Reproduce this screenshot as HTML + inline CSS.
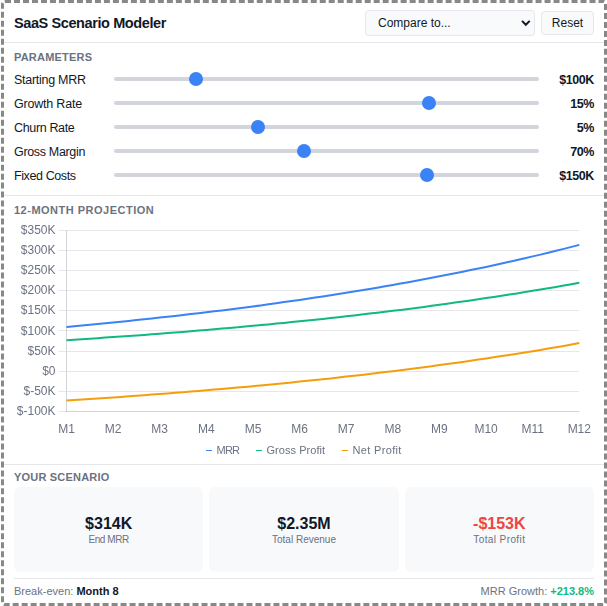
<!DOCTYPE html>
<html><head><meta charset="utf-8"><title>SaaS Scenario Modeler</title>
<style>
html,body{margin:0;padding:0;background:#fff;}
body{width:607px;height:606px;overflow:hidden;position:relative;font-family:"Liberation Sans",sans-serif;color:#111827;}
.frame{position:absolute;left:1px;top:0;width:600px;height:600px;border:3px dashed #888;border-radius:4px;box-sizing:content-box;}
.hr{position:absolute;left:4px;width:600px;height:1px;background:#e5e7eb;}
.title{position:absolute;left:14px;top:14px;font-weight:bold;font-size:14.5px;letter-spacing:-0.4px;line-height:18px;white-space:nowrap;}
.sel{position:absolute;left:365px;top:10px;width:170px;height:26px;border:1px solid #e5e7eb;border-radius:4px;background:#f9fafb;font-size:12px;line-height:24px;padding-left:12px;box-sizing:border-box;color:#111827;}
.sel svg{position:absolute;left:154px;top:8px;}
.btn{position:absolute;left:541px;top:11px;width:53px;height:24px;border:1px solid #e5e7eb;border-radius:4px;background:#f9fafb;font-size:12px;line-height:22px;text-align:center;color:#111827;box-sizing:border-box;}
.sec{position:absolute;left:14px;font-size:11px;font-weight:bold;color:#6b7280;letter-spacing:0.5px;line-height:14px;white-space:nowrap;}
.lbl{position:absolute;left:14px;font-size:12.5px;line-height:18px;white-space:nowrap;}
.trk{position:absolute;left:114px;width:425px;height:4px;border-radius:2px;background:#d1d5db;}
.thumb{position:absolute;width:14px;height:14px;border-radius:50%;background:#3b82f6;}
.val{position:absolute;right:13px;font-size:12.5px;font-weight:bold;line-height:18px;white-space:nowrap;letter-spacing:-0.4px;}
.chart{position:absolute;left:3px;top:200px;will-change:transform;}
.tk{font-family:"Liberation Sans",sans-serif;font-size:12px;fill:#6b7280;}
.legend{position:absolute;top:442px;left:0;width:607px;height:16px;font-size:11px;color:#6b7280;line-height:16px;}
.legend span{position:absolute;white-space:nowrap;}
.legend i{position:absolute;top:8px;width:6px;height:1px;}
.card{position:absolute;top:487px;height:85px;width:189.33px;background:#f8f9fb;border-radius:6px;}
.card b{position:absolute;left:0;right:0;top:27px;text-align:center;font-size:16px;line-height:20px;}
.card s{position:absolute;left:0;right:0;top:46px;text-align:center;font-size:10px;line-height:14px;color:#6b7280;text-decoration:none;}
.foot{position:absolute;top:583px;font-size:11px;line-height:16px;color:#6b7280;white-space:nowrap;}
.foot b{color:#111827;}
</style></head><body>
<div class="frame"></div>
<div class="title">SaaS Scenario Modeler</div>
<div class="sel">Compare to...<svg width="14" height="10" viewBox="0 0 14 10"><path d="M2.0 1.9 L5.85 5.8 L9.7 1.9" fill="none" stroke="#111827" stroke-width="2"/></svg></div>
<div class="btn">Reset</div>
<div class="hr" style="top:42px"></div>
<div class="sec" style="top:50px;letter-spacing:0.2px">PARAMETERS</div>
<div class="lbl" style="top:71px;letter-spacing:-0.28px">Starting MRR</div><div class="trk" style="top:77px"></div><div class="thumb" style="left:189px;top:72px"></div><div class="val" style="top:71px">$100K</div>
<div class="lbl" style="top:95px;letter-spacing:-0.2px">Growth Rate</div><div class="trk" style="top:101px"></div><div class="thumb" style="left:422px;top:96px"></div><div class="val" style="top:95px">15%</div>
<div class="lbl" style="top:119px;letter-spacing:-0.35px">Churn Rate</div><div class="trk" style="top:125px"></div><div class="thumb" style="left:251px;top:120px"></div><div class="val" style="top:119px">5%</div>
<div class="lbl" style="top:143px;letter-spacing:-0.33px">Gross Margin</div><div class="trk" style="top:149px"></div><div class="thumb" style="left:297px;top:144px"></div><div class="val" style="top:143px">70%</div>
<div class="lbl" style="top:167px;letter-spacing:-0.4px">Fixed Costs</div><div class="trk" style="top:173px"></div><div class="thumb" style="left:420px;top:168px"></div><div class="val" style="top:167px">$150K</div>

<div class="hr" style="top:195px"></div>
<div class="sec" style="top:203px">12-MONTH PROJECTION</div>
<svg class="chart" width="601" height="260" viewBox="3 200 601 260">
<line x1="58.5" y1="230.5" x2="579.3" y2="230.5" stroke="#e5e7eb" stroke-width="1"/>
<text x="55.5" y="234.00" text-anchor="end" class="tk">$350K</text>
<line x1="58.5" y1="250.5" x2="579.3" y2="250.5" stroke="#e5e7eb" stroke-width="1"/>
<text x="55.5" y="254.11" text-anchor="end" class="tk">$300K</text>
<line x1="58.5" y1="270.5" x2="579.3" y2="270.5" stroke="#e5e7eb" stroke-width="1"/>
<text x="55.5" y="274.22" text-anchor="end" class="tk">$250K</text>
<line x1="58.5" y1="290.5" x2="579.3" y2="290.5" stroke="#e5e7eb" stroke-width="1"/>
<text x="55.5" y="294.33" text-anchor="end" class="tk">$200K</text>
<line x1="58.5" y1="310.5" x2="579.3" y2="310.5" stroke="#e5e7eb" stroke-width="1"/>
<text x="55.5" y="314.44" text-anchor="end" class="tk">$150K</text>
<line x1="58.5" y1="330.5" x2="579.3" y2="330.5" stroke="#e5e7eb" stroke-width="1"/>
<text x="55.5" y="334.56" text-anchor="end" class="tk">$100K</text>
<line x1="58.5" y1="351.5" x2="579.3" y2="351.5" stroke="#e5e7eb" stroke-width="1"/>
<text x="55.5" y="354.67" text-anchor="end" class="tk">$50K</text>
<line x1="58.5" y1="371.5" x2="579.3" y2="371.5" stroke="#e5e7eb" stroke-width="1"/>
<text x="55.5" y="374.78" text-anchor="end" class="tk">$0</text>
<line x1="58.5" y1="391.5" x2="579.3" y2="391.5" stroke="#e5e7eb" stroke-width="1"/>
<text x="55.5" y="394.89" text-anchor="end" class="tk">$-50K</text>
<line x1="58.5" y1="411.5" x2="579.3" y2="411.5" stroke="#e5e7eb" stroke-width="1"/>
<text x="55.5" y="415.00" text-anchor="end" class="tk">$-100K</text>
<line x1="66.5" y1="230" x2="66.5" y2="412" stroke="#e5e7eb" stroke-width="1"/>
<line x1="66.5" y1="230" x2="66.5" y2="412" stroke="rgba(17,24,39,0.09)" stroke-width="1"/>
<line x1="66" y1="411.5" x2="579.5" y2="411.5" stroke="rgba(17,24,39,0.09)" stroke-width="1"/>
<text x="66.5" y="432.6" text-anchor="middle" class="tk">M1</text>
<text x="113.1" y="432.6" text-anchor="middle" class="tk">M2</text>
<text x="159.7" y="432.6" text-anchor="middle" class="tk">M3</text>
<text x="206.4" y="432.6" text-anchor="middle" class="tk">M4</text>
<text x="253.0" y="432.6" text-anchor="middle" class="tk">M5</text>
<text x="299.6" y="432.6" text-anchor="middle" class="tk">M6</text>
<text x="346.2" y="432.6" text-anchor="middle" class="tk">M7</text>
<text x="392.8" y="432.6" text-anchor="middle" class="tk">M8</text>
<text x="439.4" y="432.6" text-anchor="middle" class="tk">M9</text>
<text x="486.1" y="432.6" text-anchor="middle" class="tk">M10</text>
<text x="532.7" y="432.6" text-anchor="middle" class="tk">M11</text>
<text x="579.3" y="432.6" text-anchor="middle" class="tk">M12</text>
<path d="M66.5,326.9 L74.3,326.2 L82.0,325.5 L89.8,324.8 L97.6,324.0 L105.3,323.3 L113.1,322.5 L120.9,321.7 L128.7,320.9 L136.4,320.1 L144.2,319.3 L152.0,318.5 L159.7,317.6 L167.5,316.8 L175.3,315.9 L183.0,315.0 L190.8,314.1 L198.6,313.2 L206.4,312.3 L214.1,311.3 L221.9,310.4 L229.7,309.4 L237.4,308.4 L245.2,307.4 L253.0,306.4 L260.7,305.4 L268.5,304.3 L276.3,303.2 L284.1,302.1 L291.8,301.0 L299.6,299.9 L307.4,298.8 L315.1,297.6 L322.9,296.4 L330.7,295.2 L338.4,294.0 L346.2,292.8 L354.0,291.5 L361.7,290.3 L369.5,289.0 L377.3,287.7 L385.1,286.3 L392.8,285.0 L400.6,283.6 L408.4,282.2 L416.1,280.7 L423.9,279.3 L431.7,277.8 L439.4,276.3 L447.2,274.8 L455.0,273.3 L462.8,271.7 L470.5,270.1 L478.3,268.5 L486.1,266.9 L493.8,265.2 L501.6,263.5 L509.4,261.8 L517.1,260.0 L524.9,258.2 L532.7,256.4 L540.5,254.6 L548.2,252.7 L556.0,250.8 L563.8,248.9 L571.5,246.9 L579.3,244.9" fill="none" stroke="#3b82f6" stroke-width="2" stroke-linejoin="round" stroke-linecap="butt"/>
<path d="M66.5,340.2 L74.3,339.7 L82.0,339.2 L89.8,338.7 L97.6,338.2 L105.3,337.6 L113.1,337.1 L120.9,336.6 L128.7,336.0 L136.4,335.4 L144.2,334.9 L152.0,334.3 L159.7,333.7 L167.5,333.1 L175.3,332.5 L183.0,331.9 L190.8,331.2 L198.6,330.6 L206.4,330.0 L214.1,329.3 L221.9,328.6 L229.7,327.9 L237.4,327.3 L245.2,326.5 L253.0,325.8 L260.7,325.1 L268.5,324.4 L276.3,323.6 L284.1,322.9 L291.8,322.1 L299.6,321.3 L307.4,320.5 L315.1,319.7 L322.9,318.9 L330.7,318.0 L338.4,317.2 L346.2,316.3 L354.0,315.4 L361.7,314.5 L369.5,313.6 L377.3,312.7 L385.1,311.8 L392.8,310.8 L400.6,309.9 L408.4,308.9 L416.1,307.9 L423.9,306.9 L431.7,305.8 L439.4,304.8 L447.2,303.7 L455.0,302.6 L462.8,301.5 L470.5,300.4 L478.3,299.3 L486.1,298.1 L493.8,297.0 L501.6,295.8 L509.4,294.6 L517.1,293.4 L524.9,292.1 L532.7,290.8 L540.5,289.6 L548.2,288.3 L556.0,286.9 L563.8,285.6 L571.5,284.2 L579.3,282.8" fill="none" stroke="#10b981" stroke-width="2" stroke-linejoin="round" stroke-linecap="butt"/>
<path d="M66.5,400.5 L74.3,400.0 L82.0,399.5 L89.8,399.0 L97.6,398.5 L105.3,398.0 L113.1,397.4 L120.9,396.9 L128.7,396.3 L136.4,395.8 L144.2,395.2 L152.0,394.6 L159.7,394.0 L167.5,393.4 L175.3,392.8 L183.0,392.2 L190.8,391.6 L198.6,390.9 L206.4,390.3 L214.1,389.6 L221.9,389.0 L229.7,388.3 L237.4,387.6 L245.2,386.9 L253.0,386.2 L260.7,385.4 L268.5,384.7 L276.3,384.0 L284.1,383.2 L291.8,382.4 L299.6,381.6 L307.4,380.8 L315.1,380.0 L322.9,379.2 L330.7,378.4 L338.4,377.5 L346.2,376.6 L354.0,375.8 L361.7,374.9 L369.5,374.0 L377.3,373.0 L385.1,372.1 L392.8,371.2 L400.6,370.2 L408.4,369.2 L416.1,368.2 L423.9,367.2 L431.7,366.2 L439.4,365.1 L447.2,364.1 L455.0,363.0 L462.8,361.9 L470.5,360.8 L478.3,359.6 L486.1,358.5 L493.8,357.3 L501.6,356.1 L509.4,354.9 L517.1,353.7 L524.9,352.4 L532.7,351.2 L540.5,349.9 L548.2,348.6 L556.0,347.3 L563.8,345.9 L571.5,344.5 L579.3,343.1" fill="none" stroke="#f59e0b" stroke-width="2" stroke-linejoin="round" stroke-linecap="butt"/>
</svg>
<div class="legend"><i style="left:206px;background:#3b82f6"></i><span style="left:216.5px;letter-spacing:-0.75px">MRR</span><i style="left:256px;background:#10b981"></i><span style="left:266.5px;letter-spacing:0.05px">Gross Profit</span><i style="left:342px;background:#f59e0b"></i><span style="left:352.5px;letter-spacing:0.34px">Net Profit</span></div>
<div class="hr" style="top:464px"></div>
<div class="sec" style="top:470px;letter-spacing:0.2px">YOUR SCENARIO</div>
<div class="card" style="left:14px"><b>$314K</b><s style="letter-spacing:-0.4px">End MRR</s></div>
<div class="card" style="left:209.33px"><b>$2.35M</b><s>Total Revenue</s></div>
<div class="card" style="left:404.67px"><b style="color:#ef4444">-$153K</b><s style="letter-spacing:0.4px">Total Profit</s></div>
<div class="hr" style="top:578px;left:14px;width:580px"></div>
<div class="foot" style="left:14px">Break-even: <b>Month 8</b></div>
<div class="foot" style="right:13px">MRR Growth: <b style="color:#10b981">+213.8%</b></div>
</body></html>
